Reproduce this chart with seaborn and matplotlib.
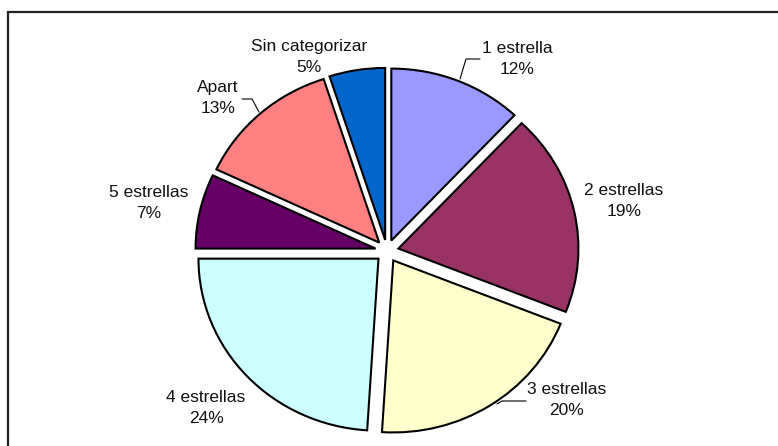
import matplotlib
matplotlib.use('Agg')
import matplotlib.pyplot as plt
from matplotlib.patches import Rectangle
from matplotlib.lines import Line2D
import seaborn as sns

# ── DATA ──────────────────────────────────────────────────────────────────────
categorias = ['1 estrella', '2 estrellas', '3 estrellas', '4 estrellas',
              '5 estrellas', 'Apart', 'Sin categorizar']
porcentajes = [12, 19, 20, 24, 7, 13, 5]
colores = ['#9999FF', '#993366', '#FFFFCC', '#CCFFFF',
           '#660066', '#FF8080', '#0066CC']

# ── LAYOUT (pixels, origen arriba-izquierda) ─────────────────────────────────
W, H = 778, 446
cx, cy = 387, 251          # centro de la torta
rx, ry = 180, 172          # radio horizontal / vertical en px
label_pos = [(517, 59), (624, 201), (567, 400), (206, 408),
             (149, 203), (218, 98), (309, 57)]
leaders = [
    [(480, 59), (466, 59), (460, 79)],
    [(242, 99), (252, 99), (259, 112)],
    [(526, 401), (502, 401), (497, 404)],
]

sns.set_theme(style='white')
plt.rcParams['font.family'] = ['Liberation Sans', 'DejaVu Sans']

fig = plt.figure(figsize=(W / 100, H / 100), dpi=100)
fig.patch.set_facecolor('white')
ax = fig.add_axes([0, 0, 1, 1])

wedges, _ = ax.pie(porcentajes, colors=colores, startangle=90,
                   counterclock=False, explode=[0.065] * len(porcentajes),
                   wedgeprops={'edgecolor': 'black', 'linewidth': 1.5})
ax.set_aspect('auto')
ax.set_xlim(-cx / rx, (W - cx) / rx)
ax.set_ylim(-(H - cy) / ry, cy / ry)
ax.axis('off')


def px(x, y):
    return x / W, 1 - y / H


for cat, pct, (x, y) in zip(categorias, porcentajes, label_pos):
    fx, fy = px(x, y)
    fig.text(fx, fy, f'{cat}\n{pct}%', ha='center', va='center',
             fontsize=12.5, color='#111111', linespacing=1.45)

for pts in leaders:
    xs = [px(x, y)[0] for x, y in pts]
    ys = [px(x, y)[1] for x, y in pts]
    fig.add_artist(Line2D(xs, ys, color='black', linewidth=0.8))

# marco del gráfico
fx0, fy0 = px(8, 12)
fig.add_artist(Rectangle((fx0, -0.1), 1.2, fy0 + 0.1, transform=fig.transFigure,
                         fill=False, edgecolor='#222222', linewidth=1.6))

plt.savefig('out.png', dpi=100, facecolor=fig.get_facecolor())
